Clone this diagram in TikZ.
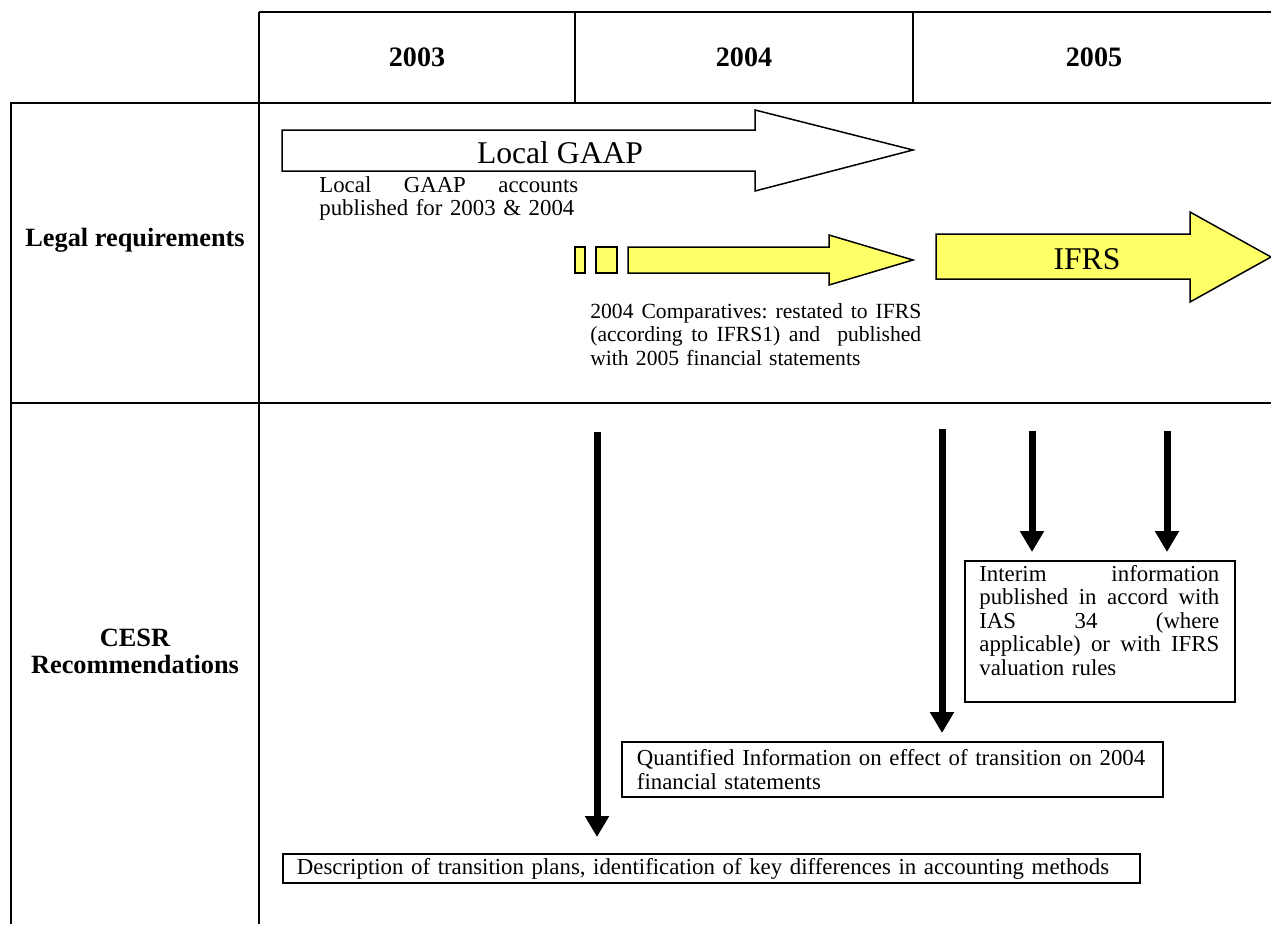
\documentclass[tikz,border=0pt]{standalone}
\usepackage{fontspec}
\setmainfont{Liberation Serif}
\usetikzlibrary{arrows.meta}
\definecolor{ifrsyellow}{RGB}{255,255,102}
\newcommand{\jline}[2]{\makebox[#1][l]{#2}}
\begin{document}
\begin{tikzpicture}[x=0.02cm,y=-0.02cm,
  tbl/.style={line width=1.3pt},
  hdr/.style={font=\fontsize{15}{15.3}\selectfont\bfseries, inner sep=0pt},
  yearlbl/.style={font=\fontsize{16}{16}\selectfont\bfseries, inner sep=0pt, anchor=base},
  body/.style={font=\fontsize{13}{13.45}\selectfont, inner sep=0pt},
  blockarrow/.style={draw, line width=0.85pt, line join=miter},
  bigarr/.style={line width=0.14cm, -{Triangle[width=0.46cm,length=0.42cm]}},
  infobox/.style={draw, line width=1.1pt, body, align=left, anchor=north west, inner ysep=0.06cm}
]
\useasboundingbox (0,0) rectangle (1271,924);
\fill[white] (0,0) rectangle (1271,924);

% table grid
\draw[tbl] (259,12) -- (1271,12);
\draw[tbl] (10,103) -- (1271,103);
\draw[tbl] (10,403) -- (1271,403);
\draw[tbl] (11,103) -- (11,924);
\draw[tbl] (259,12) -- (259,924);
\draw[tbl] (575,12) -- (575,103);
\draw[tbl] (913,12) -- (913,103);

% headers
\node[yearlbl] (y2003) at (417,66) {2003};
\node[yearlbl] (y2004) at (744,66) {2004};
\node[yearlbl] (y2005) at (1094,66) {2005};
\node[hdr, anchor=base] (legal) at (135,246) {Legal requirements};
\node[hdr, align=center] (cesr) at (135,651) {CESR\\Recommendations};

% Local GAAP block arrow
\draw[blockarrow, fill=white] (282,130) -- (755,130) -- (755,110) -- (913,150) -- (755,191) -- (755,171) -- (282,171) -- cycle;
\node[font=\fontsize{18}{20}\selectfont, inner sep=0pt, anchor=base] (gaap) at (560,163) {Local GAAP};
\node[body, text width=5.18cm, align=left, anchor=base west] (gaaptext) at (319,192)
  {\jline{5.18cm}{Local\hfill GAAP\hfill accounts}\\published for 2003 \& 2004};

% yellow comparatives arrow
\draw[blockarrow, fill=ifrsyellow] (575,247) rectangle (585,273);
\draw[blockarrow, fill=ifrsyellow] (596,247) rectangle (617,273);
\draw[blockarrow, fill=ifrsyellow] (628,247) -- (829,247) -- (829,235) -- (913,260) -- (829,285) -- (829,273) -- (628,273) -- cycle;
\node[body, font=\fontsize{12.3}{13.45}\selectfont, text width=6.62cm, align=left, anchor=base west] (comptext) at (590,318)
  {\jline{6.62cm}{2004\hfill Comparatives:\hfill restated\hfill to\hfill IFRS}\\\jline{6.62cm}{(according\hfill to\hfill IFRS1)\hfill and\hfill\hfill published}\\with 2005 financial statements};

% IFRS arrow
\draw[blockarrow, fill=ifrsyellow] (936,234) -- (1190,234) -- (1190,212) -- (1271,257) -- (1190,302) -- (1190,279) -- (936,279) -- cycle;
\node[font=\fontsize{18}{20}\selectfont, inner sep=0pt, anchor=base] (ifrs) at (1087,269) {IFRS};

% CESR boxes
\node[draw, line width=1.1pt, minimum width=5.4cm, minimum height=2.82cm, inner sep=0pt, anchor=north west] (interim) at (964,560) {};
\node[body, text width=4.8cm, align=left, anchor=base west] (interimtext) at (979,581)
  {\jline{4.8cm}{Interim\hfill information}\\\jline{4.8cm}{published\hfill in\hfill accord\hfill with}\\\jline{4.8cm}{IAS\hfill 34\hfill (where}\\\jline{4.8cm}{applicable)\hfill or\hfill with\hfill IFRS}\\valuation rules};

\node[infobox, text width=10.22cm, inner xsep=0.3cm, minimum height=1.1cm] (quant) at (621,741)
  {\jline{10.22cm}{Quantified Information on effect of transition on 2004}\\financial statements};

\node[infobox, text width=16.58cm, inner xsep=0.28cm, minimum height=0.58cm] (desc) at (282,853)
  {Description of transition plans, identification of key differences in accounting methods};

% black arrows
\coordinate (a1) at (597,432);
\coordinate (a2) at (942,429);
\coordinate (a3) at (1032,431);
\coordinate (a4) at (1167,431);
\draw[bigarr, shorten >=0.32cm] (a1) -- (a1 |- desc.north);
\draw[bigarr, shorten >=0.16cm] (a2) -- (a2 |- quant.north);
\draw[bigarr, shorten >=0.16cm] (a3) -- (a3 |- interim.north);
\draw[bigarr, shorten >=0.16cm] (a4) -- (a4 |- interim.north);
\end{tikzpicture}
\end{document}
